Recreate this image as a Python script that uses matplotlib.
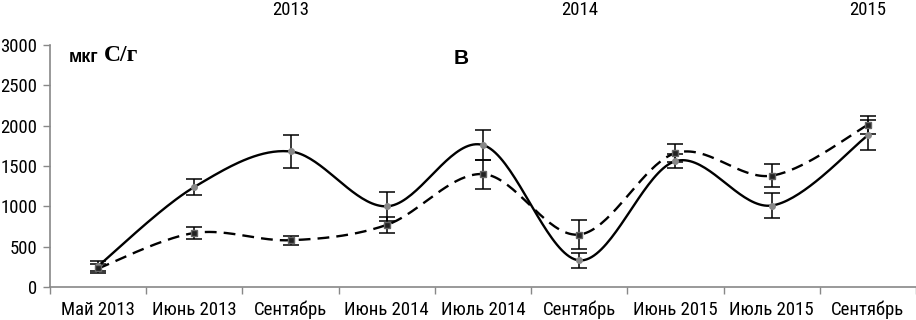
import numpy as np
import matplotlib
matplotlib.use("Agg")
import matplotlib.pyplot as plt
from matplotlib import font_manager

categories = ["Май 2013", "Июнь 2013", "Сентябрь", "Июнь 2014", "Июль 2014",
              "Сентябрь", "Июнь 2015", "Июль 2015", "Сентябрь"]
solid_vals = [260, 1240, 1680, 1000, 1760, 330, 1560, 1010, 1880]
solid_err = [60, 95, 210, 180, 185, 90, 87, 150, 185]
dashed_vals = [230, 670, 580, 770, 1400, 650, 1660, 1380, 2010]
dashed_err = [60, 75, 55, 100, 180, 175, 110, 140, 110]
year_labels = ["2013", "2014", "2015"]
year_pos = [2, 5, 8]
yticks = [0, 500, 1000, 1500, 2000, 2500, 3000]

names = {f.name for f in font_manager.fontManager.ttflist}
cands = ["Liberation Sans Narrow", "Arial Narrow", "Roboto Condensed", "PT Sans Narrow",
         "Archivo Narrow", "Liberation Sans"]
narrow = next(c for c in cands if c in names or c == "Liberation Sans")
plt.rcParams['font.family'] = [narrow, 'Liberation Sans', 'DejaVu Sans']
FS = 13.5


def excel_smooth(x, y, n=40):
    x = np.asarray(x, float); y = np.asarray(y, float)
    px = np.concatenate([[x[0]], x, [x[-1]]])
    py = np.concatenate([[y[0]], y, [y[-1]]])
    xs, ys = [], []
    t = np.linspace(0, 1, n)
    for i in range(1, len(px) - 2):
        p0 = np.array([px[i], py[i]]); p3 = np.array([px[i + 1], py[i + 1]])
        c1 = p0 + (np.array([px[i + 1], py[i + 1]]) - np.array([px[i - 1], py[i - 1]])) / 6
        c2 = p3 - (np.array([px[i + 2], py[i + 2]]) - np.array([px[i], py[i]])) / 6
        b = ((1 - t) ** 3)[:, None] * p0 + (3 * (1 - t) ** 2 * t)[:, None] * c1 + \
            (3 * (1 - t) * t ** 2)[:, None] * c2 + (t ** 3)[:, None] * p3
        xs.append(b[:, 0]); ys.append(b[:, 1])
    return np.concatenate(xs), np.concatenate(ys)


fig = plt.figure(figsize=(9.16, 3.2), dpi=100)
ax = fig.add_axes([50 / 916, 1 - 287 / 320, 866 / 916, (287 - 45) / 320])
x = np.arange(len(categories))

sx, sy = excel_smooth(x, solid_vals)
dx, dy = excel_smooth(x, dashed_vals)
ax.plot(sx, sy, color='black', lw=1.7, zorder=3)
ax.plot(dx, dy, color='black', lw=1.7, dashes=(5, 3), zorder=3)
ax.errorbar(x, solid_vals, yerr=solid_err, fmt='o', ms=4, mfc='#888888', mec='#888888',
            ecolor='black', elinewidth=1.1, capsize=6, capthick=1.1, zorder=4)
ax.errorbar(x, dashed_vals, yerr=dashed_err, fmt='s', ms=4, mfc='#222222', mec='#666666',
            ecolor='black', elinewidth=1.1, capsize=6, capthick=1.1, zorder=4)

ax.set_xlim(-0.5, len(categories) - 0.5)
ax.set_ylim(0, 3000)
ax.set_yticks(yticks)
ax.set_yticklabels([str(v) for v in yticks], fontsize=FS)
ax.set_xticks(x)
ax.set_xticklabels(categories, fontsize=FS)
ax.tick_params(axis='x', length=0, pad=10)
ax.set_xticks(np.arange(-0.5, len(categories) + 0.5, 1), minor=True)
ax.tick_params(axis='x', which='minor', length=5, color='#888888', width=1)
ax.tick_params(axis='y', length=5, color='#888888', width=1, pad=4)
for s in ['top', 'right']:
    ax.spines[s].set_visible(False)
for s in ['left', 'bottom']:
    ax.spines[s].set_color('#888888')
    ax.spines[s].set_linewidth(1.2)

for lbl, p in zip(year_labels, year_pos):
    ax.text(p, 1.145, lbl, transform=ax.get_xaxis_transform(), ha='center', va='center',
            fontsize=FS)

ax.text(0.022, 0.985, "мкг", transform=ax.transAxes, ha='left', va='top',
        fontsize=13, fontweight='bold', family=['Liberation Sans', 'DejaVu Sans'])
ax.text(0.062, 1.0, "С/г", transform=ax.transAxes, ha='left', va='top',
        fontsize=17, fontweight='bold', family=['Liberation Serif', 'DejaVu Serif'])
ax.text(0.4746, 0.985, "B", transform=ax.transAxes, ha='center', va='top',
        fontsize=15, fontweight='bold', family=['Liberation Sans', 'DejaVu Sans'])

fig.savefig("out.png", dpi=100)
